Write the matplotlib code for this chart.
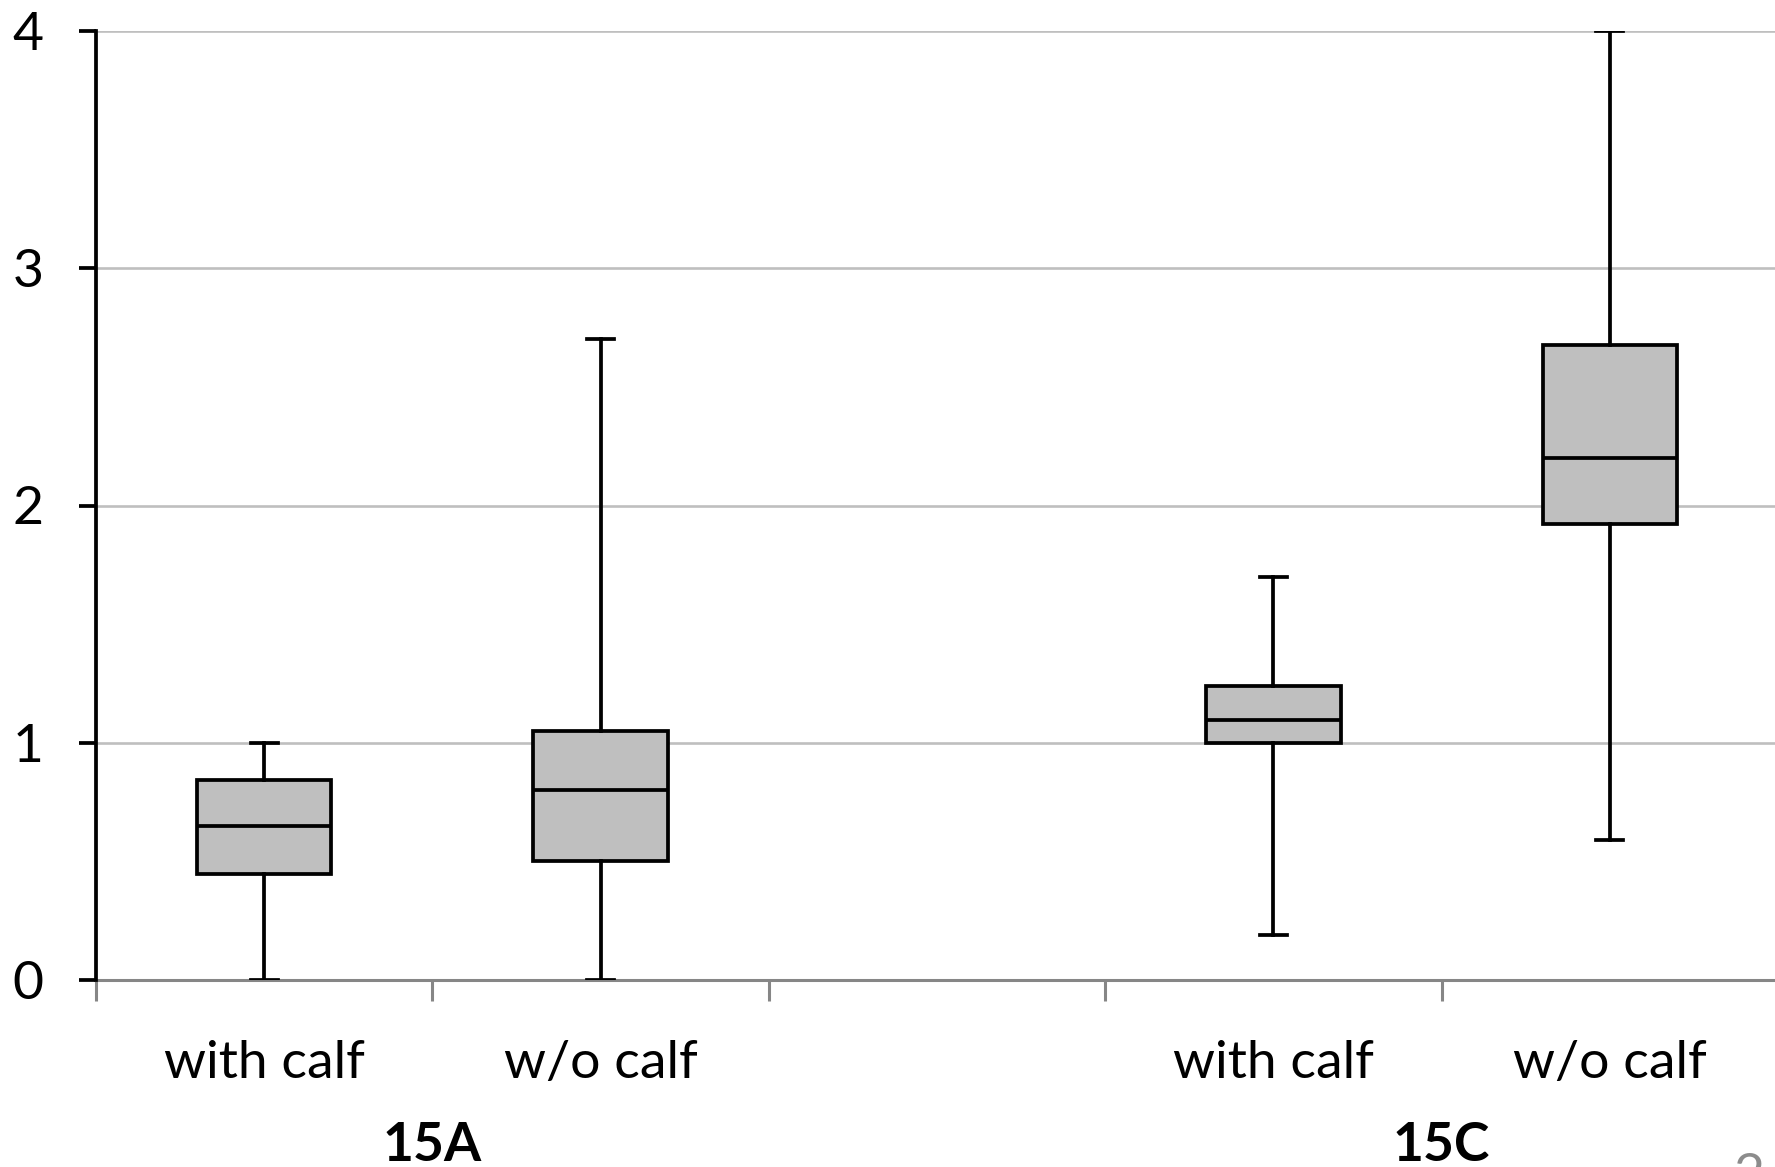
import matplotlib
matplotlib.use("Agg")
import matplotlib.pyplot as plt
from matplotlib.ticker import FixedLocator

plt.rcParams['font.family'] = ['Lato', 'DejaVu Sans']

categories = ["with calf", "w/o calf", "", "with calf", "w/o calf"]
groups = ["15A", "15C"]
group_centers = [1.5, 4.5]
positions = [1, 2, 4, 5]
whisker_low = [0.0, 0.0, 0.19, 0.59]
q1 = [0.445, 0.50, 1.0, 1.92]
median = [0.65, 0.80, 1.095, 2.20]
q3 = [0.845, 1.05, 1.24, 2.675]
whisker_high = [1.0, 2.70, 1.70, 4.0]
yticks = [0, 1, 2, 3, 4]

W, H = 1775, 1167
FS = 38.5
fig = plt.figure(figsize=(W / 100, H / 100), dpi=100)
ax = fig.add_axes([96 / W, (H - 980) / H, 1682 / W, 949 / H])

stats = []
for i in range(len(positions)):
    stats.append(dict(whislo=whisker_low[i], q1=q1[i], med=median[i],
                      q3=q3[i], whishi=whisker_high[i], fliers=[]))

lw = 2.7
ax.bxp(stats, positions=positions, widths=0.4, patch_artist=True,
       showfliers=False, capwidths=0.08,
       boxprops=dict(facecolor='#bfbfbf', edgecolor='black', linewidth=lw),
       medianprops=dict(color='black', linewidth=lw),
       whiskerprops=dict(color='black', linewidth=lw),
       capprops=dict(color='black', linewidth=lw), zorder=3)

ax.set_xlim(0.5, 5.5)
ax.set_ylim(0, 4)
ax.set_yticks(yticks)
ax.set_yticklabels([str(t) for t in yticks], fontsize=FS)
ax.yaxis.grid(True, color='#bfbfbf', linewidth=1.9, zorder=0)
ax.set_axisbelow(True)

ax.set_xticks(range(1, len(categories) + 1))
ax.set_xticklabels(categories, fontsize=FS)
ax.xaxis.set_minor_locator(FixedLocator([0.5 + k for k in range(len(categories) + 1)]))
ax.tick_params(axis='x', which='major', length=0, pad=43)
ax.tick_params(axis='x', which='minor', length=15, width=2.2, color='#868686', direction='out')
ax.tick_params(axis='y', which='major', length=12, width=2.7, color='black', pad=26)

for s in ['top', 'right']:
    ax.spines[s].set_visible(False)
ax.spines['left'].set_color('black')
ax.spines['left'].set_linewidth(2.7)
ax.spines['bottom'].set_color('#868686')
ax.spines['bottom'].set_linewidth(2.2)
ax.spines['left'].set_zorder(4)

for g, c in zip(groups, group_centers):
    ax.text(c, -0.765, g, ha='center', va='baseline', fontsize=FS,
            fontweight='bold', clip_on=False)

fig.text(1749 / W, (H - 1153) / H, "2", color='#8c8c8c', fontsize=FS,
         ha='center', va='top')

fig.savefig("out.png", dpi=100)
